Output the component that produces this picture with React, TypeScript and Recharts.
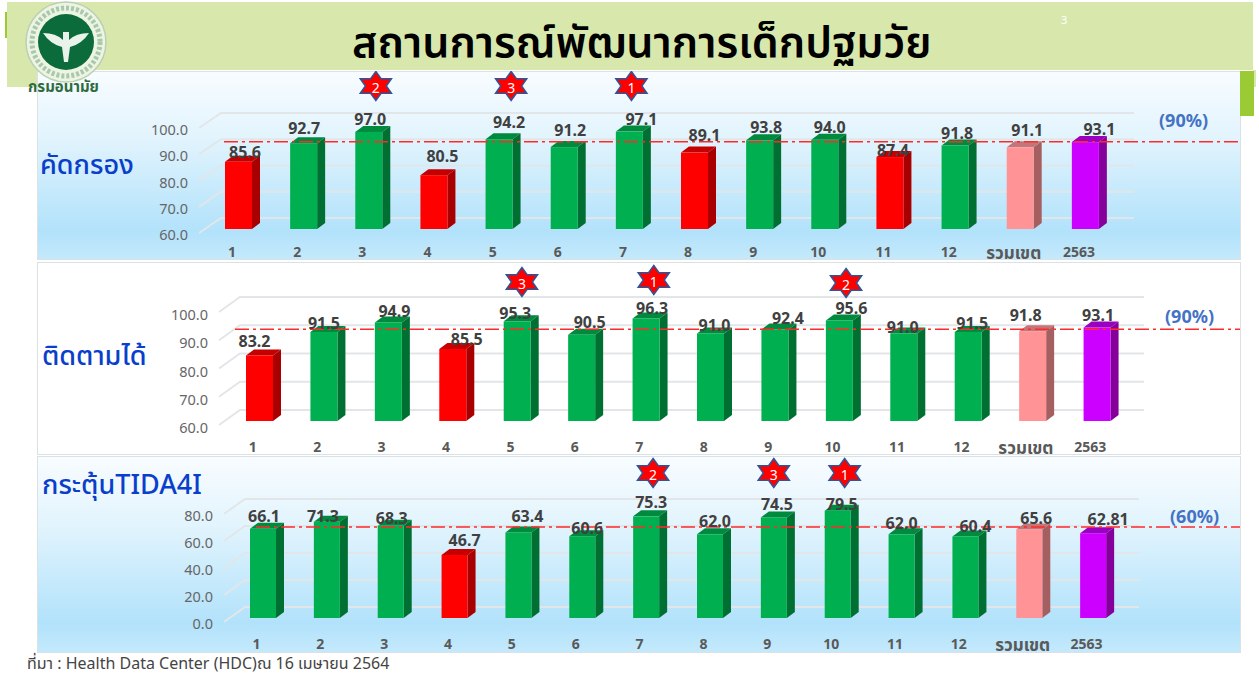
import { BarChart, Bar, XAxis, YAxis, CartesianGrid, LabelList, ReferenceLine, ReferenceDot } from 'recharts';

const categories = ['1', '2', '3', '4', '5', '6', '7', '8', '9', '10', '11', '12', 'รวมเขต', '2563'];

const screeningValues = [85.6, 92.7, 97.0, 80.5, 94.2, 91.2, 97.1, 89.1, 93.8, 94.0, 87.4, 91.8, 91.1, 93.1];
const followUpValues = [83.2, 91.5, 94.9, 85.5, 95.3, 90.5, 96.3, 91.0, 92.4, 95.6, 91.0, 91.5, 91.8, 93.1];
const stimulationValues = [66.1, 71.3, 68.3, 46.7, 63.4, 60.6, 75.3, 62.0, 74.5, 79.5, 62.0, 60.4, 65.6, 62.81];

const screeningTicks = [60, 70, 80, 90, 100];
const followUpTicks = [60, 70, 80, 90, 100];
const stimulationTicks = [0, 20, 40, 60, 80];

// value labels in the slide were dragged around by hand
const screeningLabelDx = [6.5, 0.5, 1.5, 8.5, 10, 6, 12, 10, 6.5, 5, 3, 2, 7, 14];
const screeningLabelDy = [-10, -15, -13, -19, -17, -17, -13, -18, -13, -13, -7, -13, -17, -13];
const followUpLabelDx = [-5, 0, 6, 14, -2, 8, 6, 4, 13, 12, -1, 4, -7, 1];
const followUpLabelDy = [-14, -9, -11, -10, -8, -13, -10, -8, -11, -12, -6, -9, -16, -12];
const stimulationLabelDx = [1, -4, 1, 10, 9, 5, 5, 5, 3, 4, 0, 10, 7, 15];
const stimulationLabelDy = [-13, -6, -8, -15, -16, -8, -14, -13, -13, -7, -11, -10, -11, -14];

const FONT = '"Noto Sans", "Noto Sans Thai", "DejaVu Sans", sans-serif';
const GREEN = ['#00b050', '#006f32', '#008a3e'];
const RED = ['#ff0000', '#a80000', '#c40000'];
const PINK = ['#ff9396', '#a65f60', '#c57477'];
const PURPLE = ['#cc00ff', '#85009a', '#9a00c0'];

const barColors = (value: number, target: number, index: number) => {
  if (index === 12) return PINK;
  if (index === 13) return PURPLE;
  return value < target ? RED : GREEN;
};

const Bar3D = (props: any, target: number) => {
  const { x, y, width, height, value, index } = props;
  const [front, side, top] = barColors(value, target, index);
  const d = 8;
  const r = 6;
  const right = x + width;
  return (
    <g>
      <polygon points={`${x},${y} ${x + d},${y - r} ${right + d},${y - r} ${right},${y}`} fill={top} />
      <polygon points={`${right},${y} ${right + d},${y - r} ${right + d},${y + height - r} ${right},${y + height}`} fill={side} />
      <rect x={x} y={y} width={width} height={height} fill={front} />
    </g>
  );
};

const Star = ({ cx, cy, rank, dx, dy }: any) => {
  const px = cx + dx;
  const py = cy + dy;
  const pts: string[] = [];
  for (let i = 0; i < 12; i++) {
    const a = (Math.PI / 6) * i - Math.PI / 2;
    const k = i % 2 === 0 ? 1 : 0.58;
    pts.push(`${px + Math.cos(a) * 18 * k},${py + Math.sin(a) * 14.5 * k}`);
  }
  return (
    <g>
      <polygon points={pts.join(' ')} fill="#ff0000" stroke="#2f5597" strokeWidth={1.5} />
      <text x={px} y={py + 1} textAnchor="middle" dominantBaseline="central" fontSize={14} fill="#fff" fontFamily={FONT}>
        {rank}
      </text>
    </g>
  );
};

const Panel3D = ({ p }: { p: any }) => {
  const data = categories.map((name, i) => ({ name, value: p.values[i] }));
  const chartH = p.bottom - p.top;
  const [yMin, yMax] = [p.ticks[0], p.ticks[p.ticks.length - 1]];
  return (
    <div style={{ position: 'absolute', left: 0, top: p.top }}>
      <BarChart
        width={1259}
        height={chartH}
        data={data}
        barSize={p.barWidth}
        style={{ overflow: 'visible' }}
        margin={{ top: p.yTop - p.top, right: 1259 - p.plotRight, left: p.plotLeft - 60, bottom: p.bottom - p.yBase - 30 }}
      >
        <CartesianGrid
          vertical={false}
          syncWithTicks
          horizontal={(g: any) => (
            <g key={g.key ?? g.y1}>
              <polyline
                points={`${p.gridStart},${g.y1 + 4} ${p.gridBack},${g.y1 - 11} ${p.gridRight},${g.y1 - 11}`}
                fill="none"
                stroke="#e2e6e9"
                strokeWidth={2}
              />
            </g>
          )}
        />
        <XAxis
          dataKey="name"
          axisLine={false}
          tickLine={false}
          tickSize={0}
          interval={0}
          height={30}
          tick={(t: any) => {
            const wide = t.payload.value.length > 4;
            return (
              <text
                x={t.x - 6.5}
                y={p.yBase - p.top + p.xTickGap + (wide ? 1 : 0)}
                textAnchor="middle"
                dominantBaseline="central"
                fontFamily={FONT}
                fontWeight={700}
                fontSize={wide ? 17 : 14}
                fill="#595959"
              >
                {t.payload.value}
              </text>
            );
          }}
        />
        <YAxis
          width={60}
          domain={[yMin, yMax]}
          ticks={p.ticks}
          axisLine={false}
          tickLine={false}
          tickSize={0}
          tick={(t: any) => (
            <text
              x={p.yLabelRight}
              y={t.y + p.yLabelDy}
              textAnchor="end"
              dominantBaseline="central"
              fontFamily={FONT}
              fontSize={14.5}
              fill="#666"
            >
              {Number(t.payload.value).toFixed(1)}
            </text>
          )}
        />
        <Bar dataKey="value" isAnimationActive={false} shape={(b: any) => Bar3D(b, p.target)}>
          <LabelList
            dataKey="value"
            content={(l: any) => (
              <text
                x={l.x + l.width / 2 + p.labelDx[l.index]}
                y={l.y + p.labelDy[l.index]}
                textAnchor="middle"
                dominantBaseline="central"
                fontFamily={FONT}
                fontWeight={700}
                fontSize={16}
                fill="#404040"
              >
                {p.labelText(l.value)}
              </text>
            )}
          />
        </Bar>
        <ReferenceLine
          y={p.target}
          shape={(r: any) => (
            <line
              x1={p.lineStart}
              x2={1240}
              y1={r.y1 + p.lineDy}
              y2={r.y1 + p.lineDy}
              stroke="#ff2a2a"
              strokeWidth={1.5}
              strokeDasharray="14 4 3 4"
            />
          )}
        />
        {p.stars.map((s: any) => (
          <ReferenceDot
            key={s.category}
            x={s.category}
            y={yMax}
            ifOverflow="visible"
            shape={(d: any) => <Star cx={d.cx} cy={d.cy} rank={s.rank} dx={s.dx} dy={s.dy} />}
          />
        ))}
      </BarChart>
    </div>
  );
};

const oneDecimal = (v: number) => v.toFixed(1);

const panels = [
  {
    top: 71, bottom: 271, yTop: 124, yBase: 229, plotLeft: 206, plotRight: 1118, barWidth: 27,
    values: screeningValues, ticks: screeningTicks, target: 90, labelDx: screeningLabelDx, labelDy: screeningLabelDy,
    labelText: oneDecimal, gridStart: 199, gridBack: 221, gridRight: 1134, yLabelRight: 188, yLabelDy: 5,
    xTickGap: 22.5, lineStart: 224, lineDy: 2.5 - 11,
    stars: [
      { category: '3', rank: '2', dx: 7, dy: -38 },
      { category: '5', rank: '3', dx: 12, dy: -38 },
      { category: '7', rank: '1', dx: 2, dy: -38 },
    ],
  },
  {
    top: 263, bottom: 465, yTop: 308, yBase: 421, plotLeft: 227, plotRight: 1129, barWidth: 27,
    values: followUpValues, ticks: followUpTicks, target: 90, labelDx: followUpLabelDx, labelDy: followUpLabelDy,
    labelText: oneDecimal, gridStart: 219, gridBack: 240, gridRight: 1144, yLabelRight: 208, yLabelDy: 6,
    xTickGap: 25, lineStart: 235, lineDy: 4 - 11,
    stars: [
      { category: '5', rank: '3', dx: 5, dy: -26 },
      { category: '7', rank: '1', dx: 8, dy: -28 },
      { category: '10', rank: '2', dx: 7, dy: -25 },
    ],
  },
  {
    top: 457, bottom: 663, yTop: 510, yBase: 618, plotLeft: 231, plotRight: 1125, barWidth: 26,
    values: stimulationValues, ticks: stimulationTicks, target: 60, labelDx: stimulationLabelDx, labelDy: stimulationLabelDy,
    labelText: (v: number) => (v === 62.81 ? '62.81' : oneDecimal(v)), gridStart: 224, gridBack: 245, gridRight: 1139,
    yLabelRight: 213, yLabelDy: 5, xTickGap: 25, lineStart: 256, lineDy: 1 - 11,
    stars: [
      { category: '7', rank: '2', dx: 7, dy: -37 },
      { category: '9', rank: '3', dx: 0, dy: -37 },
      { category: '10', rank: '1', dx: 7, dy: -37 },
    ],
  },
];

const box = (left: number, top: number, width: number, height: number, background: string, extra: any = {}) => (
  <div style={{ position: 'absolute', left, top, width, height, background, ...extra }} />
);

const skyGradient = 'linear-gradient(180deg, #f8fcff 0%, #e2f4fd 35%, #b2e2fb 85%, #c4e9fc 100%)';

const label = (text: string, left: number, cy: number, style: any) => {
  const h = style.fontSize * 1.1;
  return (
    <div style={{ position: 'absolute', left, top: cy - h / 2, height: h, lineHeight: `${h}px`, whiteSpace: 'nowrap', fontFamily: FONT, ...style }}>
      {text}
    </div>
  );
};

const Logo = () => (
  <svg width={90} height={90} style={{ position: 'absolute', left: 22, top: 0 }}>
    <circle cx={44} cy={42} r={40} fill="#eef4e2" stroke="#b9d0b4" strokeWidth={1.5} />
    <circle cx={44} cy={42} r={34} fill="none" stroke="#a9c9ae" strokeWidth={5} strokeDasharray="3 2" />
    <circle cx={44} cy={42} r={28} fill="#0b6b3a" />
    <path d="M21 33 Q34 33 41 40 L41 32 L47 32 L47 40 Q54 33 67 33 Q60 44 48 47 L46 62 L42 62 L40 47 Q28 44 21 33 Z" fill="#e9f3ea" />
  </svg>
);

export default function App() {
  return (
    <div style={{ position: 'absolute', left: 0, top: 0, width: 1259, height: 673, overflow: 'hidden', background: '#fff' }}>
      {box(7, 2, 1246, 68, '#d8e8ad')}
      {box(7, 70, 30, 17, '#d8e8ad')}
      {box(5, 12, 2, 26, '#9acb34')}
      {box(1253, 70, 3, 17, '#d8e8ad')}
      {box(37, 71, 1204, 189, skyGradient, { boxSizing: 'border-box', border: '1.5px solid #dbe2e6' })}
      {box(37, 262, 1204, 193, '#fff', { boxSizing: 'border-box', border: '1.5px solid #dbe2e6' })}
      {box(37, 456, 1204, 197, skyGradient, { boxSizing: 'border-box', border: '1.5px solid #dbe2e6' })}
      {box(1240, 71, 14, 45, '#9acb34')}
      <Logo />
      {label('กรมอนามัย', 28, 86, { fontSize: 15, fontWeight: 700, color: '#2f6b3f' })}
      {label('สถานการณ์พัฒนาการเด็กปฐมวัย', 352, 41, { fontSize: 43, fontWeight: 600, color: '#000' })}
      {label('3', 1061, 20, { fontSize: 11, color: '#fff' })}
      {label('คัดกรอง', 40, 164, { fontSize: 27, fontWeight: 500, color: '#0a3fcc' })}
      {label('ติดตามได้', 42, 355, { fontSize: 27, fontWeight: 500, color: '#0a3fcc' })}
      {label('กระตุ้นTIDA4I', 42, 484, { fontSize: 27, fontWeight: 500, color: '#0a3fcc' })}
      {panels.map((p) => (
        <Panel3D key={p.top} p={p} />
      ))}
      {label('(90%)', 1159, 121, { fontSize: 18, fontWeight: 700, color: '#4472c4' })}
      {label('(90%)', 1165, 317, { fontSize: 18, fontWeight: 700, color: '#4472c4' })}
      {label('(60%)', 1170, 517, { fontSize: 18, fontWeight: 700, color: '#4472c4' })}
      {label('ที่มา : Health Data Center (HDC)ณ 16 เมษายน 2564', 27, 664, { fontSize: 16, color: '#444' })}
    </div>
  );
}
